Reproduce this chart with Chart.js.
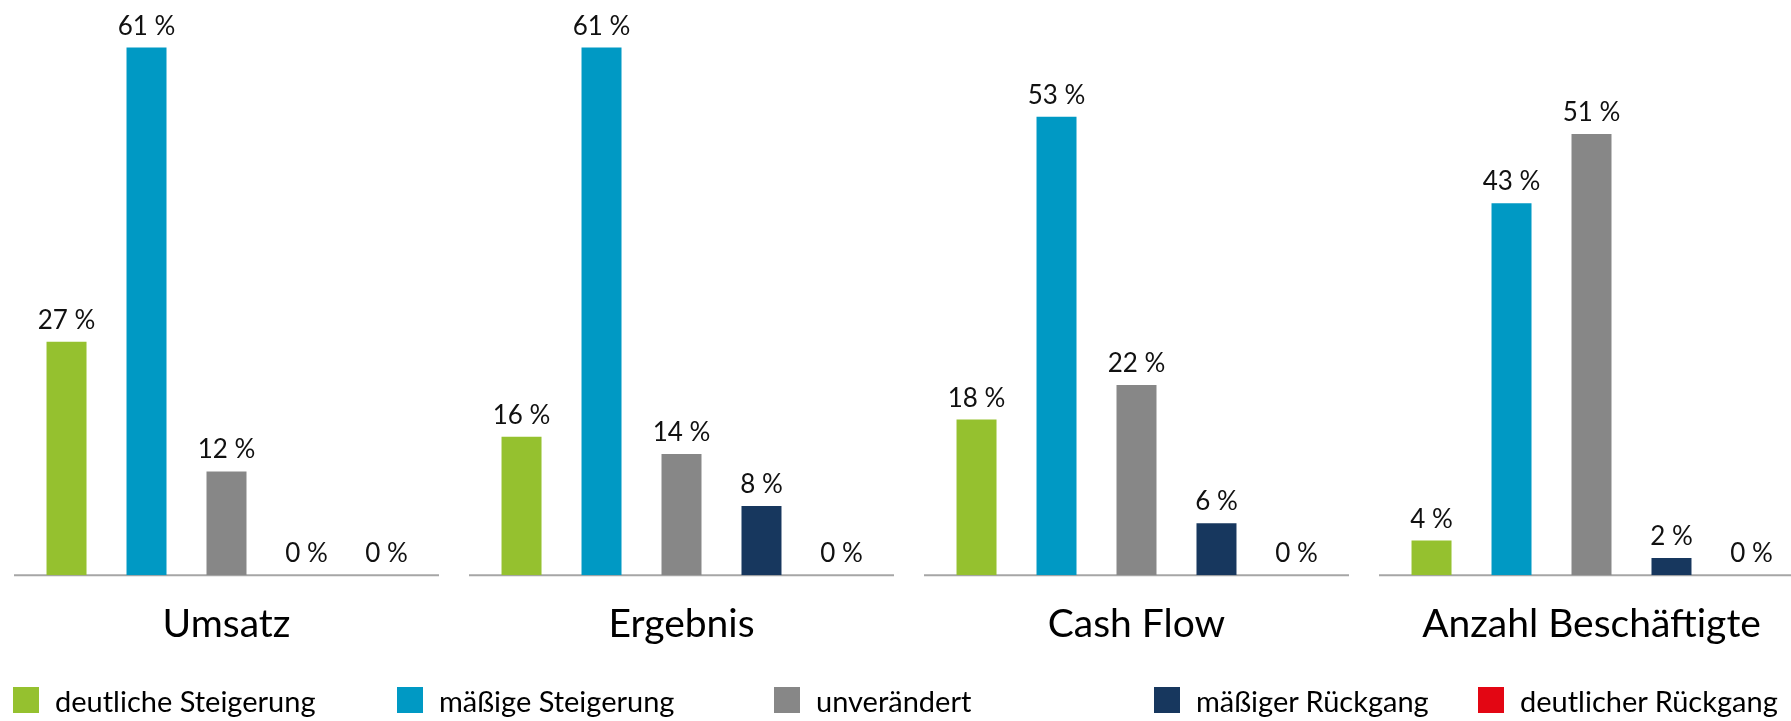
<!DOCTYPE html>
<html lang="de">
<head>
<meta charset="utf-8">
<title>Erwartungen</title>
<script src="https://cdn.jsdelivr.net/npm/chart.js@4.4.1/dist/chart.umd.min.js"></script>
<style>
  html, body { margin: 0; padding: 0; background: #fff; overflow: hidden; }
  body { width: 1791px; height: 721px; position: relative; font-family: Lato, "Noto Sans", sans-serif; }
  #wrap { position: absolute; left: -1px; top: 0; width: 1820px; height: 721px; }
  #legend { position: absolute; left: 0; top: 685px; width: 1791px; height: 30px; }
  .item { position: absolute; top: 0; display: flex; align-items: center; height: 30px; font-size: 29px; color: #000; white-space: nowrap; }
  .box { width: 26px; height: 26px; margin-right: 16px; flex: none; }
</style>
</head>
<body>
<div id="wrap"><canvas id="barChart"></canvas></div>
<div id="legend"></div>
<script>
// --- data ---
const categories = ['Umsatz', 'Ergebnis', 'Cash Flow', 'Anzahl Beschäftigte'];
const seriesNames = ['deutliche Steigerung', 'mäßige Steigerung', 'unverändert', 'mäßiger Rückgang', 'deutlicher Rückgang'];
const deutlicheSteigerung = [27, 16, 18, 4];
const maessigeSteigerung = [61, 61, 53, 43];
const unveraendert = [12, 14, 22, 51];
const maessigerRueckgang = [0, 8, 6, 2];
const deutlicherRueckgang = [0, 0, 0, 0];
const seriesColors = ['#95C12F', '#0099C4', '#878787', '#17375E', '#E30613'];

// legend item left edges (layout only)
const legendLeft = [13, 397, 774, 1154, 1478];

const seriesValues = [deutlicheSteigerung, maessigeSteigerung, unveraendert, maessigerRueckgang, deutlicherRueckgang];

// percent labels above each bar
const valueLabels = {
    id: 'valueLabels',
    afterDatasetsDraw(chart) {
        const ctx = chart.ctx;
        ctx.save();
        ctx.font = '26px Lato';
        ctx.fillStyle = '#111';
        ctx.textAlign = 'center';
        ctx.textBaseline = 'alphabetic';
        chart.data.datasets.forEach((ds, i) => {
            chart.getDatasetMeta(i).data.forEach((bar, j) => {
                ctx.fillText(ds.data[j] + ' %', bar.x, bar.y - 13);
            });
        });
        ctx.restore();
    }
};

// one baseline piece under every group
const groupBaselines = {
    id: 'groupBaselines',
    beforeDatasetsDraw(chart) {
        const xs = chart.scales.x;
        const y0 = chart.scales.y.getPixelForValue(0);
        const half = xs.width / categories.length / 2 - 15;
        const ctx = chart.ctx;
        ctx.save();
        ctx.strokeStyle = '#A6A6A6';
        ctx.lineWidth = 2;
        categories.forEach((c, i) => {
            const cx = xs.getPixelForValue(i);
            ctx.beginPath();
            ctx.moveTo(cx - half, y0);
            ctx.lineTo(cx + half, y0);
            ctx.stroke();
        });
        ctx.restore();
    }
};

const ctx = document.getElementById('barChart').getContext('2d');
new Chart(ctx, {
    type: 'bar',
    data: {
        labels: categories,
        datasets: seriesNames.map((name, i) => ({
            label: name,
            data: seriesValues[i],
            backgroundColor: seriesColors[i],
            borderWidth: 0,
            categoryPercentage: 0.879,
            barPercentage: 0.5
        }))
    },
    options: {
        responsive: true,
        maintainAspectRatio: false,
        animation: false,
        layout: { padding: { top: 0, left: 0, right: 0, bottom: 47 } },
        scales: {
            x: {
                grid: { display: false, drawTicks: false },
                border: { display: false },
                ticks: { padding: 26, color: '#000', font: { family: 'Lato', size: 39 } }
            },
            y: {
                display: false,
                min: 0,
                max: 66.5
            }
        },
        plugins: {
            legend: { display: false },
            tooltip: { enabled: false }
        }
    },
    plugins: [groupBaselines, valueLabels]
});

// legend row
const legendEl = document.getElementById('legend');
seriesNames.forEach((name, i) => {
    const item = document.createElement('div');
    item.className = 'item';
    item.style.left = legendLeft[i] + 'px';
    const box = document.createElement('span');
    box.className = 'box';
    box.style.background = seriesColors[i];
    const txt = document.createElement('span');
    txt.textContent = name;
    item.appendChild(box);
    item.appendChild(txt);
    legendEl.appendChild(item);
});
</script>
</body>
</html>
